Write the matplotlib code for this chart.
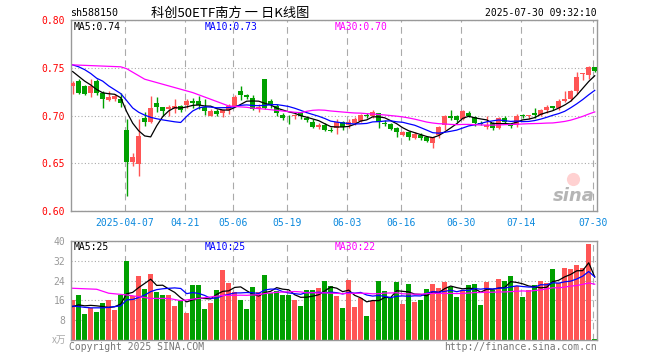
import numpy as np
import pandas as pd
import matplotlib
matplotlib.use('Agg')
import matplotlib.pyplot as plt

plt.rcParams['font.family'] = ['DejaVu Sans Mono']

# daily candles 2025-03-24 .. 2025-07-30
opens = [0.731, 0.736, 0.731, 0.724, 0.736, 0.724, 0.716, 0.717, 0.717, 0.685,
         0.651, 0.649, 0.697, 0.693, 0.713, 0.709, 0.707, 0.707, 0.710, 0.711,
         0.715, 0.715, 0.709, 0.700, 0.705, 0.703, 0.706, 0.710, 0.726, 0.721,
         0.718, 0.707, 0.738, 0.715, 0.710, 0.701, 0.700, 0.699, 0.703, 0.697,
         0.693, 0.688, 0.690, 0.685, 0.687, 0.693, 0.690, 0.692, 0.694, 0.701,
         0.699, 0.703, 0.692, 0.691, 0.687, 0.680, 0.683, 0.676, 0.680, 0.677,
         0.671, 0.680, 0.690, 0.700, 0.699, 0.696, 0.703, 0.698, 0.692, 0.688,
         0.692, 0.687, 0.697, 0.690, 0.690, 0.701, 0.699, 0.703, 0.701, 0.706,
         0.710, 0.708, 0.715, 0.717, 0.726, 0.743, 0.742, 0.751]
highs = [0.736, 0.738, 0.732, 0.738, 0.738, 0.726, 0.726, 0.722, 0.724, 0.696,
         0.661, 0.696, 0.704, 0.720, 0.719, 0.709, 0.711, 0.717, 0.711, 0.717,
         0.718, 0.720, 0.717, 0.707, 0.707, 0.706, 0.712, 0.721, 0.731, 0.722,
         0.721, 0.712, 0.738, 0.717, 0.712, 0.703, 0.701, 0.702, 0.704, 0.699,
         0.696, 0.692, 0.692, 0.688, 0.696, 0.694, 0.696, 0.698, 0.702, 0.703,
         0.706, 0.703, 0.695, 0.692, 0.688, 0.684, 0.684, 0.683, 0.682, 0.678,
         0.678, 0.689, 0.701, 0.706, 0.701, 0.706, 0.705, 0.699, 0.694, 0.700,
         0.693, 0.698, 0.700, 0.692, 0.702, 0.702, 0.701, 0.708, 0.707, 0.711,
         0.710, 0.717, 0.726, 0.727, 0.746, 0.745, 0.752, 0.751]
lows = [0.722, 0.722, 0.721, 0.719, 0.721, 0.708, 0.715, 0.715, 0.709, 0.616,
        0.647, 0.637, 0.689, 0.692, 0.704, 0.699, 0.699, 0.703, 0.704, 0.708,
        0.708, 0.707, 0.701, 0.699, 0.699, 0.698, 0.702, 0.710, 0.716, 0.717,
        0.706, 0.704, 0.707, 0.708, 0.699, 0.695, 0.691, 0.696, 0.696, 0.693,
        0.687, 0.686, 0.684, 0.683, 0.681, 0.685, 0.687, 0.690, 0.693, 0.697,
        0.697, 0.687, 0.689, 0.685, 0.678, 0.679, 0.674, 0.675, 0.674, 0.672,
        0.666, 0.676, 0.685, 0.695, 0.693, 0.695, 0.698, 0.689, 0.690, 0.686,
        0.685, 0.686, 0.691, 0.687, 0.688, 0.697, 0.696, 0.697, 0.700, 0.703,
        0.706, 0.706, 0.714, 0.715, 0.723, 0.737, 0.738, 0.746]
closes = [0.734, 0.724, 0.723, 0.731, 0.724, 0.717, 0.719, 0.720, 0.713, 0.651,
          0.657, 0.679, 0.693, 0.708, 0.709, 0.705, 0.709, 0.710, 0.706, 0.715,
          0.713, 0.711, 0.705, 0.705, 0.702, 0.706, 0.710, 0.719, 0.721, 0.719,
          0.707, 0.709, 0.708, 0.712, 0.703, 0.697, 0.699, 0.701, 0.699, 0.695,
          0.688, 0.690, 0.685, 0.684, 0.693, 0.688, 0.693, 0.696, 0.701, 0.699,
          0.704, 0.693, 0.691, 0.686, 0.683, 0.683, 0.677, 0.681, 0.676, 0.673,
          0.677, 0.688, 0.700, 0.697, 0.695, 0.705, 0.699, 0.692, 0.691, 0.690,
          0.687, 0.697, 0.693, 0.689, 0.699, 0.699, 0.701, 0.701, 0.706, 0.709,
          0.708, 0.715, 0.717, 0.726, 0.740, 0.744, 0.751, 0.747]
volumes = [16.2, 18.2, 10.5, 12.8, 11.3, 14.8, 16.2, 12.1, 18.2, 31.9,
           17.8, 25.9, 20.5, 26.7, 19.4, 18.2, 18.2, 13.7, 15.9, 11.0,
           22.2, 22.2, 12.5, 15.1, 20.2, 28.3, 23.2, 19.4, 16.2, 12.5,
           21.3, 19.4, 26.3, 18.9, 19.9, 18.2, 18.2, 16.2, 13.7, 20.2,
           20.2, 21.1, 23.8, 21.8, 17.8, 13.1, 24.2, 13.3, 16.8, 9.7,
           15.8, 23.8, 19.8, 16.8, 23.4, 14.5, 22.6, 15.4, 16.2, 20.6,
           22.6, 21.0, 23.4, 21.4, 17.4, 20.2, 22.2, 22.6, 14.1, 23.4,
           20.2, 24.6, 23.8, 25.9, 21.8, 17.4, 20.2, 22.2, 23.8, 23.0,
           28.7, 23.0, 29.1, 28.7, 30.3, 29.1, 38.8, 0.4]

tick_pos = [9, 19, 27, 36, 46, 55, 65, 75, 87]
tick_labels = ['2025-04-07', '04-21', '05-06', '05-19', '06-03',
               '06-16', '06-30', '07-14', '07-30']

# moving-average values at the left edge (window starts before the chart)
ma5_head = [0.746, 0.741, 0.736, 0.732]
ma10_head = [0.753, 0.751, 0.748, 0.744, 0.739, 0.736, 0.731, 0.727, 0.723]
ma30_head_idx = [0, 4, 8, 9, 12, 16, 20, 23, 26, 28]
ma30_head = [0.753, 0.752, 0.751, 0.749, 0.738, 0.731, 0.724, 0.717, 0.710, 0.709]
vma5_head = [13.5, 14.2, 13.8, 14.0]
vma10_head = [13.7, 13.5, 13.2, 13.0, 13.0, 13.0, 13.2, 13.5, 13.8]
vma30_head_idx = [0, 4, 6, 9, 13, 16, 18, 20, 25, 28]
vma30_head = [20.9, 20.5, 18.9, 18.2, 16.8, 16.8, 15.9, 16.5, 18.0, 18.1]

RED = '#ff5555'
GREEN = '#00a000'
GRID = '#aaaaaa'
FRAME = '#999999'
BLUE_TXT = '#0a88dd'

n = len(closes)
x = np.arange(n)
o = np.array(opens); c = np.array(closes)
h = np.array(highs); l = np.array(lows)
up = c >= o
cols = np.where(up, RED, GREEN)


def ma_short(vals, w, head):
    s = pd.Series(vals).rolling(w).mean()
    s.iloc[:len(head)] = head
    return x, s.values


def ma_long(vals, w, head_idx, head):
    s = pd.Series(vals).rolling(w).mean()
    xs = list(head_idx) + list(range(w - 1, n))
    ys = list(head) + list(s.values[w - 1:])
    return xs, ys


def px(xp, yp):
    return xp / 660, 1 - yp / 360


fig = plt.figure(figsize=(6.6, 3.6), dpi=100)
L, R = 70.7, 597
ax = fig.add_axes([L / 660, 1 - 211 / 360, (R - L) / 660, (211 - 20) / 360])
axv = fig.add_axes([L / 660, 1 - 340 / 360, (R - L) / 660, (340 - 241) / 360])

grid_x = np.array(tick_pos) - 0.28
for a in (ax, axv):
    a.set_xlim(-0.33, n - 1 + 0.38)
    a.set_axisbelow(True)
    for sp in a.spines.values():
        sp.set_color(FRAME)
        sp.set_linewidth(1.0)
    a.set_xticks(grid_x)
    a.grid(axis='x', color=GRID, lw=0.8, ls=(0, (6, 4)))
    a.grid(axis='y', color=GRID, lw=0.8, ls=(0, (1, 2)))
    a.tick_params(length=0)

# price panel
ax.set_ylim(0.60, 0.80)
ax.set_yticks([0.60, 0.65, 0.70, 0.75, 0.80])
ax.set_yticklabels(['0.60', '0.65', '0.70', '0.75', '0.80'])
ax.tick_params(axis='y', labelcolor='#ff0000', labelsize=7, pad=4)
ax.set_xticklabels(tick_labels)
ax.tick_params(axis='x', labelcolor=BLUE_TXT, labelsize=7, pad=5)

ax.vlines(x, l, h, colors=cols, lw=1.0, zorder=2)
body_h = np.maximum(np.abs(c - o), 0.0009)
ax.bar(x, body_h, bottom=np.minimum(o, c), width=0.78, color=cols, zorder=3)

xs, ys = ma_short(closes, 5, ma5_head)
ax.plot(xs, ys, color='black', lw=0.9, zorder=4)
xs, ys = ma_short(closes, 10, ma10_head)
ax.plot(xs, ys, color='#0000ff', lw=0.9, zorder=4)
xs, ys = ma_long(closes, 30, ma30_head_idx, ma30_head)
ax.plot(xs, ys, color='#ff00ff', lw=0.9, zorder=4)

ma5_last = pd.Series(closes).rolling(5).mean().iloc[-1]
ma10_last = pd.Series(closes).rolling(10).mean().iloc[-1]
ma30_last = pd.Series(closes).rolling(30).mean().iloc[-1]
fig.text(*px(74, 27), f'MA5:{ma5_last:.2f}', color='black', fontsize=7, va='center')
fig.text(*px(205, 27), f'MA10:{ma10_last:.2f}', color='#0000ff', fontsize=7, va='center')
fig.text(*px(335, 27), f'MA30:{ma30_last:.2f}', color='#ff00ff', fontsize=7, va='center')

# sina watermark
ax.text(0.995, 0.03, 'sina', transform=ax.transAxes, ha='right', va='bottom',
        fontsize=13, fontstyle='italic', fontweight='bold', color='#b5b5b5',
        family='DejaVu Sans', zorder=1)
ax.scatter([0.955], [0.17], s=90, color='#ff9999', alpha=0.45,
           transform=ax.transAxes, zorder=1, linewidths=0)

# volume panel
axv.set_ylim(0, 40)
axv.set_yticks([8, 16, 24, 32, 40])
axv.set_yticklabels(['8', '16', '24', '32', '40'])
axv.tick_params(axis='y', labelcolor='#999999', labelsize=7, pad=4)
axv.set_xticklabels([])
axv.bar(x, volumes, width=0.78, color=cols, zorder=2)

xs, ys = ma_short(volumes, 5, vma5_head)
axv.plot(xs, ys, color='black', lw=0.9, zorder=4)
xs, ys = ma_short(volumes, 10, vma10_head)
axv.plot(xs, ys, color='#0000ff', lw=0.9, zorder=4)
xs, ys = ma_long(volumes, 30, vma30_head_idx, vma30_head)
axv.plot(xs, ys, color='#ff00ff', lw=0.9, zorder=4)

# volume averages are shown truncated to whole 万
v5 = int(pd.Series(volumes).rolling(5).mean().iloc[-1])
v10 = int(pd.Series(volumes).rolling(10).mean().iloc[-1])
v30 = int(pd.Series(volumes).rolling(30).mean().iloc[-1])
fig.text(*px(74, 247), f'MA5:{v5}', color='black', fontsize=7, va='center')
fig.text(*px(205, 247), f'MA10:{v10}', color='#0000ff', fontsize=7, va='center')
fig.text(*px(335, 247), f'MA30:{v30}', color='#ff00ff', fontsize=7, va='center')
fig.text(*px(66, 340), 'x万', ha='right', va='center', color='#aaaaaa', fontsize=7,
         family=['Noto Sans CJK SC', 'DejaVu Sans'], fontstyle='italic')

# header / footer
fig.text(*px(70, 13.5), 'sh588150', fontsize=7.2, va='center')
fig.text(*px(230, 13), '科创50ETF南方 一 日K线图', fontsize=9.5, va='center', ha='center',
         family=['Noto Sans CJK SC', 'DejaVu Sans'])
fig.text(*px(597, 13.5), '2025-07-30 09:32:10', fontsize=7, va='center', ha='right')
fig.text(*px(69, 347), 'Copyright 2025 SINA.COM', fontsize=7, va='center', color='#777777')
fig.text(*px(597, 347), 'http://finance.sina.com.cn', fontsize=7, va='center', ha='right',
         color='#777777')

fig.savefig('out.png', dpi=100)
